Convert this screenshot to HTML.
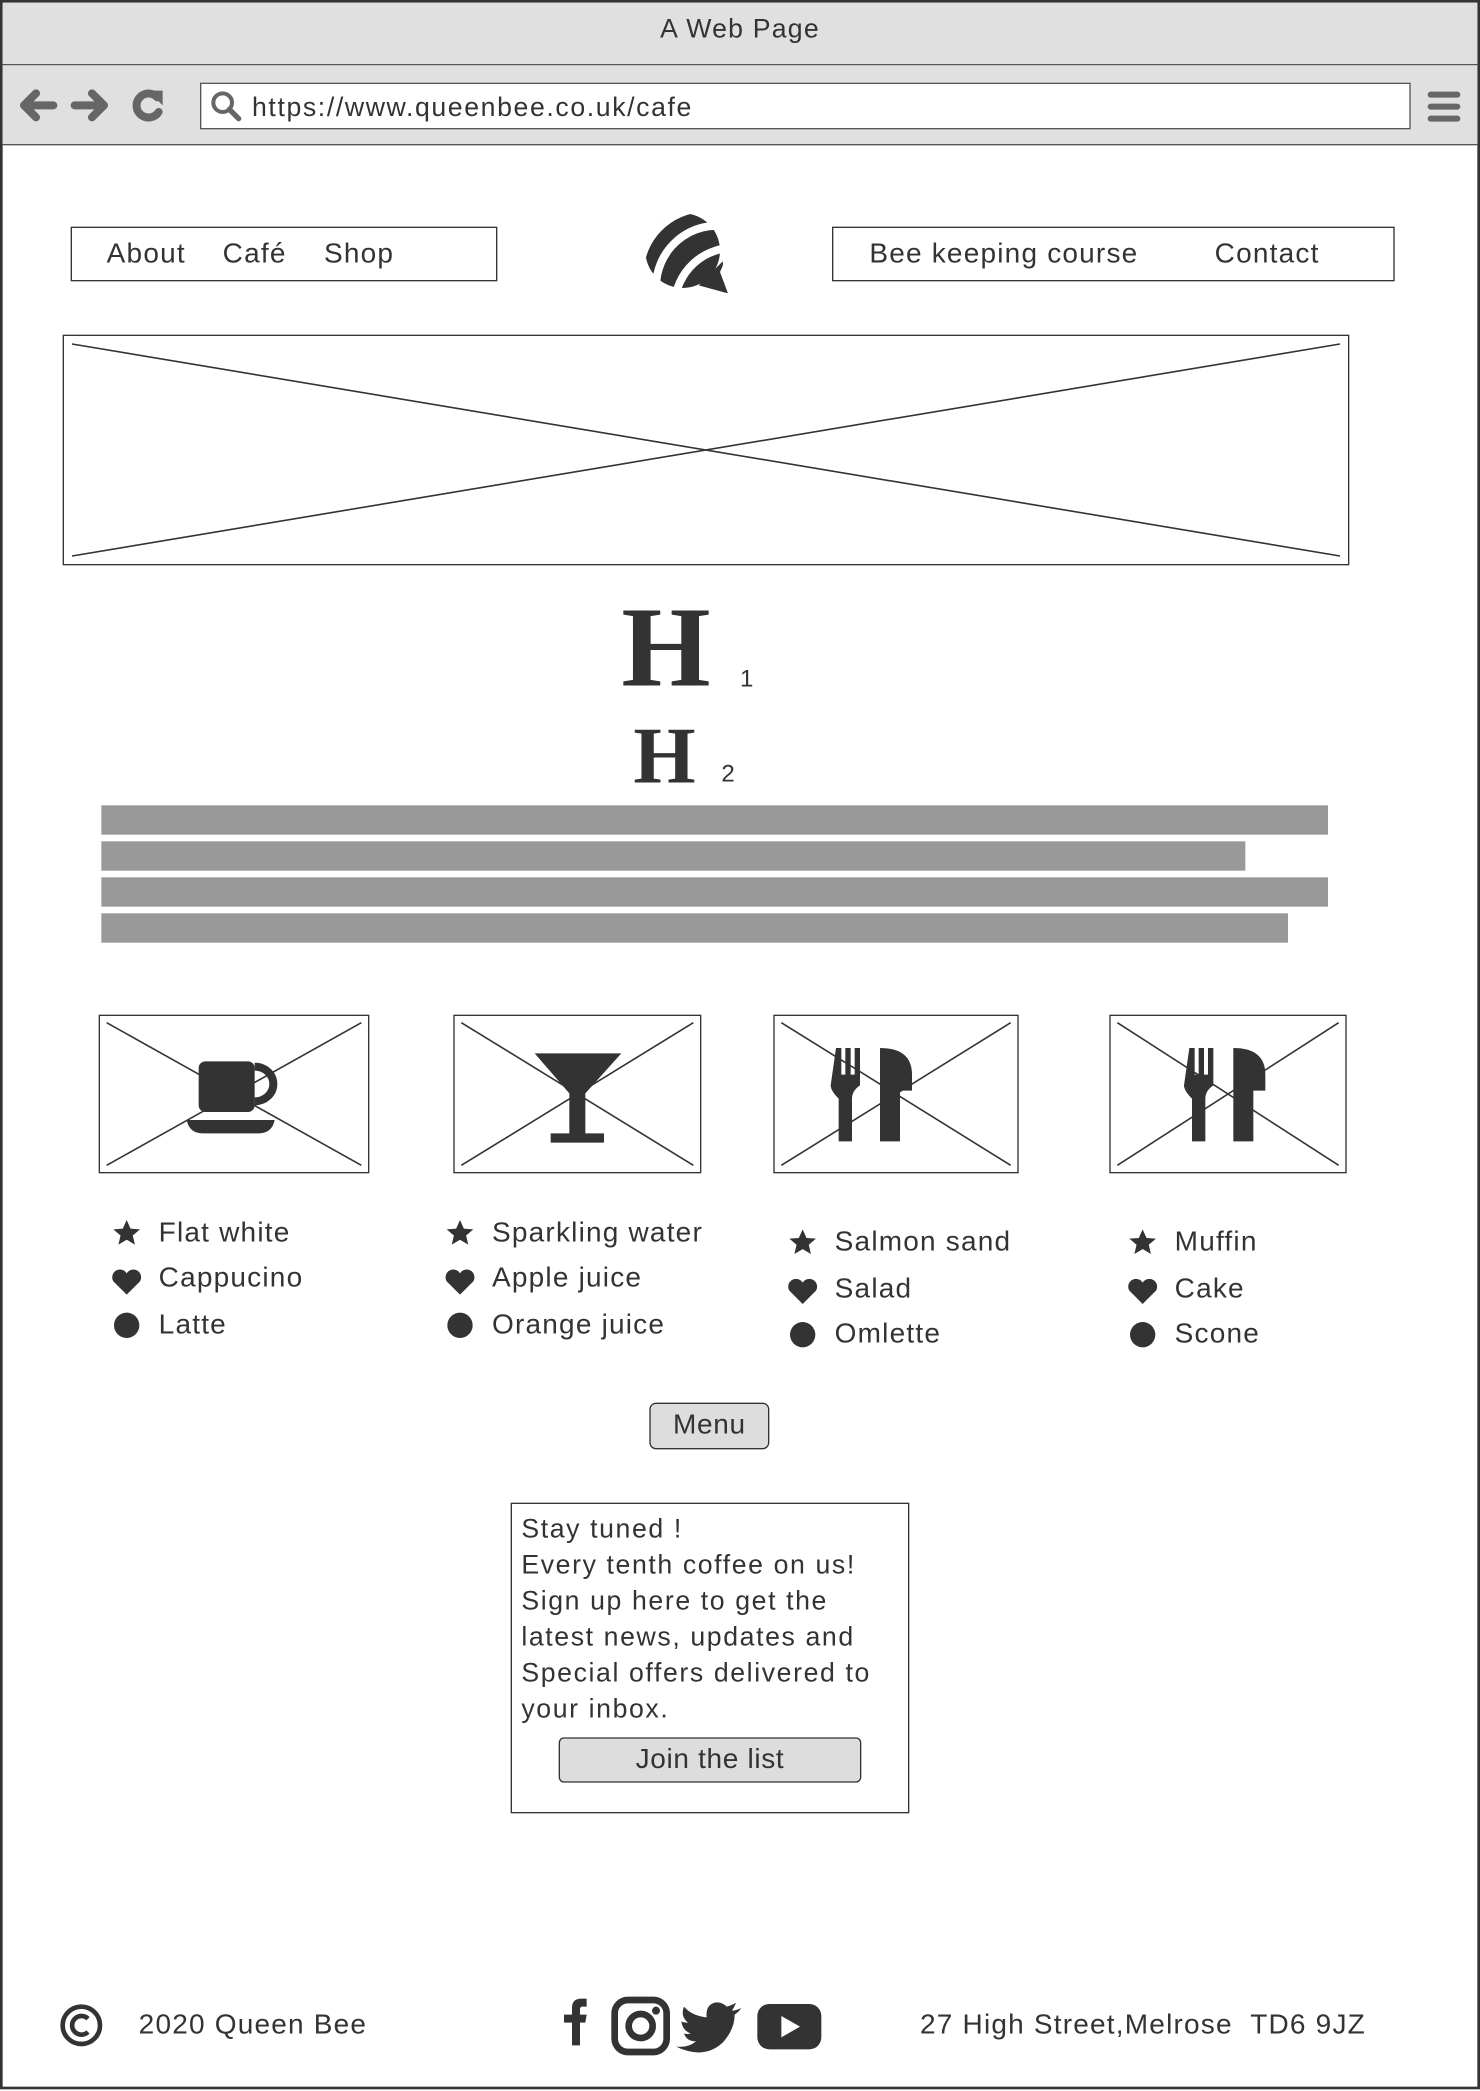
<!DOCTYPE html>
<html><head><meta charset="utf-8"><style>
html,body{margin:0;padding:0;background:#fff}
body{width:1480px;height:2090px;overflow:hidden;position:relative}
#wrap{position:absolute;left:0;top:0;width:1110px;height:1567.5px;transform:scale(1.33333);transform-origin:0 0;font-family:"Liberation Sans",sans-serif;color:#333}
.a{position:absolute}
.t{position:absolute;font-size:21px;line-height:1;white-space:nowrap;letter-spacing:0.9px}
.box{position:absolute;border:1.5px solid #333;box-sizing:border-box;background:#fff}
.bar{position:absolute;background:#999;left:76px;height:22px}
</style></head><body>
<div id="wrap">
<div class="a" style="left:0;top:0;width:1110px;height:1567px;border:2.5px solid #333;box-sizing:border-box"></div>
<div class="a" style="left:2px;top:2px;width:1106px;height:46px;background:#e0e0e0;border-bottom:1.5px solid #555"></div>
<div class="t" style="left:0;width:1110px;text-align:center;top:12px;font-size:20px">A Web Page</div>
<div class="a" style="left:2px;top:49px;width:1106px;height:59px;background:#e0e0e0;border-bottom:1.5px solid #555"></div>
<svg class="a" style="left:12px;top:62px" width="120" height="34">
<g stroke="#666" stroke-width="6" fill="none" stroke-linecap="round" stroke-linejoin="round">
<path d="M28 17H6M15 8L6 17L15 26"/><path d="M44 17H66M57 8L66 17L57 26"/>
<path d="M106 11A9 9 0 1 0 107 22"/></g><path d="M99 6L110 6L110 17Z" fill="#666"/></svg>
<div class="box" style="left:150px;top:62px;width:908px;height:35px;border-color:#555"></div>
<svg class="a" style="left:156px;top:66px" width="28" height="28"><circle cx="11" cy="11" r="7" stroke="#666" stroke-width="3" fill="none"/><path d="M16 16L23 23" stroke="#666" stroke-width="4" stroke-linecap="round"/></svg>
<div class="t" style="left:189px;top:71px;font-size:20px;letter-spacing:1.2px">https://www.queenbee.co.uk/cafe</div>
<svg class="a" style="left:1070px;top:66px" width="26" height="28"><g stroke="#666" stroke-width="4.5" stroke-linecap="round"><path d="M3 5H23M3 14H23M3 23H23"/></g></svg>

<div class="box" style="left:53px;top:170px;width:320px;height:41px"></div>
<div class="t" style="left:80px;top:180px">About</div>
<div class="t" style="left:167px;top:180px">Café</div>
<div class="t" style="left:243px;top:180px">Shop</div>
<svg class="a" style="left:480px;top:156px" width="72" height="70">
<defs><clipPath id="c"><path d="M36 4A30 30 0 0 0 8 50L20 62L66 64L60 48A30 30 0 0 0 36 4Z"/></clipPath></defs>
<g clip-path="url(#c)" fill="#333"><circle cx="32" cy="32" r="28"/><path d="M66 64L44 58L62 40Z"/></g>
<g stroke="#fff" stroke-width="6" fill="none"><path d="M0 44A50 50 0 0 1 52 0"/><path d="M12 60A46 46 0 0 1 66 14"/><path d="M26 72A44 44 0 0 1 72 30"/></g></svg>
<div class="box" style="left:624px;top:170px;width:422px;height:41px"></div>
<div class="t" style="left:652px;top:180px">Bee keeping course</div>
<div class="t" style="left:911px;top:180px">Contact</div>

<div class="box" style="left:47px;top:251px;width:965px;height:173px"></div>
<svg class="a" style="left:0;top:0" width="1110" height="1568"><g stroke="#333" stroke-width="1.2">
<path d="M54 258L1005 417M1005 258L54 417"/>
<path d="M80 767L271 874M271 767L80 874"/>
<path d="M346 767L520 874M520 767L346 874"/>
<path d="M586 767L758 874M758 767L586 874"/>
<path d="M838 767L1004 874M1004 767L838 874"/></g></svg>

<div class="t" style="left:466px;top:442px;font-family:'Liberation Serif',serif;font-weight:bold;font-size:86px;letter-spacing:0">H</div>
<div class="t" style="left:555px;top:500px;font-size:18px">1</div>
<div class="t" style="left:475px;top:537px;font-family:'Liberation Serif',serif;font-weight:bold;font-size:60px;letter-spacing:0">H</div>
<div class="t" style="left:541px;top:571px;font-size:18px">2</div>
<div class="bar" style="top:604px;width:920px"></div>
<div class="bar" style="top:631px;width:858px"></div>
<div class="bar" style="top:658px;width:920px"></div>
<div class="bar" style="top:685px;width:890px"></div>

<div class="box" style="left:74px;top:761px;width:203px;height:119px;background:none"></div>
<div class="box" style="left:340px;top:761px;width:186px;height:119px;background:none"></div>
<div class="box" style="left:580px;top:761px;width:184px;height:119px;background:none"></div>
<div class="box" style="left:832px;top:761px;width:178px;height:119px;background:none"></div>
<svg class="a" style="left:0;top:0" width="1110" height="1000"><g fill="#333">
<rect x="149" y="796" width="42" height="38" rx="5"/><path d="M191 800A14 13 0 1 1 191 826" stroke="#333" stroke-width="6" fill="none"/><path d="M140 840H206Q204 850 194 850H152Q142 850 140 840Z"/>
<path d="M401 790H466L439 820V850H453V857H413V850H427V820Z"/>
<path d="M627 786h4v20h3v-20h4v20h3v-20h4v28q-6 4-6 10v32h-10v-32q-6-6-6-10z"/><path d="M660 786q24 0 24 20v12h-9v38h-15z"/>
<path d="M892 786h4v20h3v-20h4v20h3v-20h4v28q-6 4-6 10v32h-10v-32q-6-6-6-10z"/><path d="M925 786q24 0 24 20v12h-9v38h-15z"/>
</g></svg>

<svg class="a" style="left:0;top:0" width="1110" height="1020"><g fill="#333">
<defs><path id="st" d="M0 -10L2.9 -3.5L10 -3L4.6 1.6L6.2 8.5L0 4.8L-6.2 8.5L-4.6 1.6L-10 -3L-2.9 -3.5Z"/><path id="hr" d="M0 10L-10 0A5.5 5.5 0 0 1 0 -6A5.5 5.5 0 0 1 10 0Z"/></defs>
<use href="#st" x="95" y="925"/><use href="#hr" x="95" y="961"/><circle cx="95" cy="994" r="9.5"/>
<use href="#st" x="345" y="925"/><use href="#hr" x="345" y="961"/><circle cx="345" cy="994" r="9.5"/>
<use href="#st" x="602" y="932"/><use href="#hr" x="602" y="968"/><circle cx="602" cy="1001" r="9.5"/>
<use href="#st" x="857" y="932"/><use href="#hr" x="857" y="968"/><circle cx="857" cy="1001" r="9.5"/>
</g></svg>
<div class="t" style="left:119px;top:914px">Flat white</div>
<div class="t" style="left:119px;top:948px">Cappucino</div>
<div class="t" style="left:119px;top:983px">Latte</div>
<div class="t" style="left:369px;top:914px">Sparkling water</div>
<div class="t" style="left:369px;top:948px">Apple juice</div>
<div class="t" style="left:369px;top:983px">Orange juice</div>
<div class="t" style="left:626px;top:921px">Salmon sand</div>
<div class="t" style="left:626px;top:956px">Salad</div>
<div class="t" style="left:626px;top:990px">Omlette</div>
<div class="t" style="left:881px;top:921px">Muffin</div>
<div class="t" style="left:881px;top:956px">Cake</div>
<div class="t" style="left:881px;top:990px">Scone</div>

<div class="box" style="left:487px;top:1052px;width:90px;height:35px;background:#ddd;border-radius:5px;text-align:center;font-size:21px;line-height:32px;letter-spacing:0.5px">Menu</div>

<div class="box" style="left:383px;top:1127px;width:299px;height:233px"></div>
<div class="a" style="left:391px;top:1134px;font-size:20px;line-height:27px;white-space:nowrap;letter-spacing:1.2px">Stay tuned !<br>Every tenth coffee on us!<br>Sign up here to get the<br>latest news, updates and<br>Special offers delivered to<br>your inbox.</div>
<div class="box" style="left:419px;top:1303px;width:227px;height:34px;background:#ddd;border-radius:4px;text-align:center;font-size:21px;line-height:31px;letter-spacing:0.5px">Join the list</div>

<svg class="a" style="left:44px;top:1502px" width="34" height="34"><circle cx="17" cy="17" r="14" stroke="#333" stroke-width="3.5" fill="none"/><path d="M22 12A7 7 0 1 0 22 22" stroke="#333" stroke-width="3.5" fill="none"/></svg>
<div class="t" style="left:104px;top:1508px">2020 Queen Bee</div>
<svg class="a" style="left:410px;top:1496px" width="210" height="46"><g fill="#333">
<path d="M19 38V21H13V15H19V10Q19 3 26 3H30V9H27Q25 9 25 11V15H30L29 21H25V38Z"/>
<rect x="51" y="4" width="39" height="39" rx="10" stroke="#333" stroke-width="5" fill="none"/><circle cx="70.5" cy="23.5" r="9" stroke="#333" stroke-width="5" fill="none"/><circle cx="82" cy="12" r="3"/>
<path d="M146 10Q142 12 139 12Q141 9 142 6Q139 8 135 9Q131 5 126 6Q119 8 120 17Q109 16 103 9Q100 16 106 21Q103 21 101 20Q102 27 108 29Q105 30 103 29Q105 35 112 35Q106 40 97 39Q118 49 132 36Q141 26 141 15Q144 13 146 10Z"/>
<rect x="158" y="7" width="48" height="34" rx="9"/><path d="M176 16L190 24L176 32Z" fill="#fff"/></g></svg>
<div class="t" style="left:690px;top:1508px">27 High Street,Melrose&nbsp; TD6 9JZ</div>
</div></body></html>
